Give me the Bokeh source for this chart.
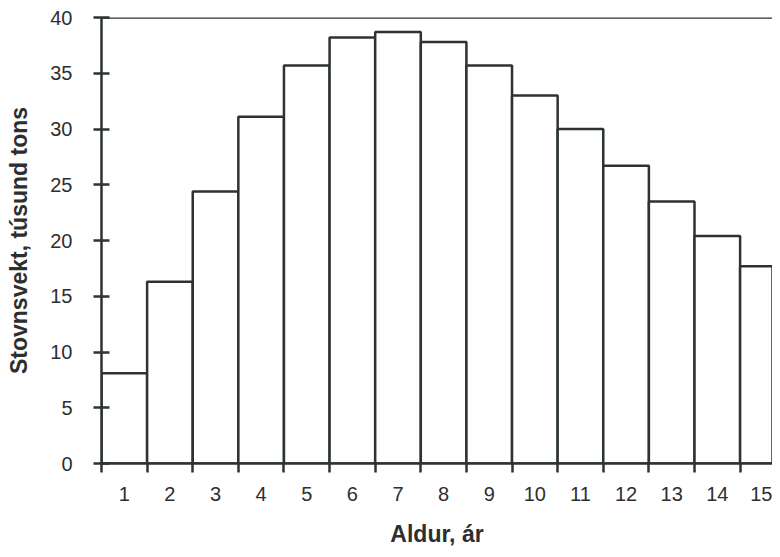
from bokeh.plotting import figure
from bokeh.models import Range1d, FixedTicker, Span, ColumnDataSource
from bokeh.embed import file_html
from bokeh.resources import INLINE

# Data
ages = [1, 2, 3, 4, 5, 6, 7, 8, 9, 10, 11, 12, 13, 14, 15]
biomass = [8.1, 16.3, 24.4, 31.1, 35.7, 38.2, 38.7, 37.8, 35.7, 33.0, 30.0, 26.7, 23.5, 20.4, 17.7]
y_ticks = [0, 5, 10, 15, 20, 25, 30, 35, 40]
x_label = "Aldur, ár"
y_label = "Stovnsvekt, túsund tons"

LINE = "#2c3330"
TEXT = "#2e2e2e"
FONT = "Liberation Sans"

src = ColumnDataSource(data=dict(age=ages, val=biomass))

p = figure(width=772, height=549, output_backend="svg", toolbar_location=None,
           x_range=Range1d(0.5, 15.21), y_range=Range1d(0, 40),
           min_border_left=101, min_border_right=0, min_border_top=17, min_border_bottom=83)

p.vbar(x="age", top="val", width=1, bottom=0, source=src,
       fill_color="white", line_color=LINE, line_width=2.5)

p.add_layout(Span(location=40, dimension="width", line_color=LINE, line_width=2.5))

p.outline_line_color = None
p.grid.visible = False
p.background_fill_color = "white"
p.border_fill_color = "white"

# X axis
xa = p.xaxis[0]
xa.ticker = FixedTicker(ticks=ages, minor_ticks=[a - 0.5 for a in ages] + [15.5])
xa.major_tick_line_color = None
xa.minor_tick_line_color = LINE
xa.minor_tick_line_width = 2.5
xa.minor_tick_in = 1
xa.minor_tick_out = 9
xa.axis_line_color = LINE
xa.axis_line_width = 2.5
xa.major_label_standoff = 14
xa.major_label_text_font = FONT
xa.major_label_text_font_size = "20px"
xa.major_label_text_color = TEXT
xa.axis_label = x_label
xa.axis_label_text_font = FONT
xa.axis_label_text_font_size = "23px"
xa.axis_label_text_font_style = "bold"
xa.axis_label_text_color = TEXT
xa.axis_label_standoff = 17

# Y axis
ya = p.yaxis[0]
ya.ticker = FixedTicker(ticks=y_ticks, minor_ticks=[])
ya.major_tick_line_color = LINE
ya.major_tick_line_width = 2.5
ya.major_tick_in = 8
ya.major_tick_out = 8
ya.axis_line_color = LINE
ya.axis_line_width = 2.5
ya.major_label_standoff = 21
ya.major_label_text_font = FONT
ya.major_label_text_font_size = "20px"
ya.major_label_text_color = TEXT
ya.axis_label = y_label
ya.axis_label_text_font = FONT
ya.axis_label_text_font_size = "23px"
ya.axis_label_text_font_style = "bold"
ya.axis_label_text_color = TEXT
ya.axis_label_standoff = 15

open("out.html", "w").write(file_html(p, INLINE))
